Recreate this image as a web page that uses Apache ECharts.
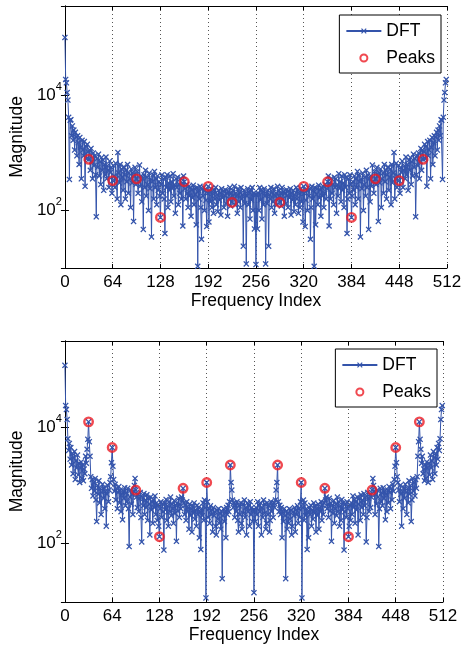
<!DOCTYPE html>
<html><head><meta charset="utf-8">
<script src="https://cdn.jsdelivr.net/npm/echarts@6/dist/echarts.min.js"></script>
<style>html,body{margin:0;padding:0;background:#fff}#c{width:465px;height:646px}</style>
</head><body><div id="c"></div>
<script>
// Frequency index ticks
const xTickInterval = 64;
const xMax = 512;
// Indices marked as peaks (both panels)
const peakIdx = [32,64,96,128,160,192,224,288,320,352,384,416,448,480];
// log10 |X[k]| read from the picture for k = 0..256 (the spectrum of a real
// signal is symmetric: |X[k]| = |X[512-k]|, so k = 257..511 reuse these readings)
const topHalfLog = [
5.01,4.28,4.22,4.05,3.92,3.62,2.54,3.57,3.58,3.30,3.47,3.22,3.40,3.05,3.36,3.28,
2.95,3.30,3.18,2.80,3.27,3.10,2.55,3.22,3.05,2.95,3.20,2.42,3.12,2.90,3.15,3.02,
2.89,3.05,2.70,3.08,2.85,2.55,3.00,2.78,2.95,2.62,1.89,2.90,2.75,2.98,2.60,2.85,
2.45,2.92,2.70,2.88,2.35,2.80,2.62,2.93,2.55,2.78,2.70,2.40,2.86,2.66,2.75,2.30,
2.52,2.78,2.60,2.40,2.82,2.55,2.20,3.01,2.65,2.48,2.80,2.10,2.72,2.58,2.35,2.76,
2.62,2.20,2.70,2.50,2.80,2.30,2.65,2.55,2.05,2.72,2.48,2.66,1.81,2.60,2.75,2.45,
2.55,2.68,2.30,2.50,2.79,2.42,2.60,2.15,2.55,1.67,2.62,2.40,2.70,2.25,2.58,2.45,
2.00,2.65,2.38,2.55,1.54,2.50,2.62,2.20,2.68,2.40,2.55,2.10,2.60,2.35,2.50,2.25,
1.88,2.45,2.62,2.30,2.55,2.20,1.60,2.58,2.40,2.62,2.05,2.48,2.35,2.60,2.15,2.50,
2.38,2.64,2.25,2.45,1.95,2.55,2.40,2.58,2.10,2.46,2.30,2.56,2.20,2.48,1.73,2.60,
2.50,2.38,2.20,2.45,2.30,2.05,2.42,2.25,2.40,1.90,2.36,2.22,2.44,2.10,2.38,2.28,
1.75,2.40,1.03,2.35,2.20,2.42,2.05,1.50,2.38,2.25,2.40,2.00,2.35,2.18,1.72,2.30,
2.42,1.80,2.32,2.15,2.38,2.05,2.30,1.95,2.36,2.20,2.40,2.10,2.28,1.98,2.35,2.18,
2.30,1.92,2.38,2.22,2.34,2.05,2.26,2.36,2.12,2.30,1.90,2.33,2.20,2.40,2.08,2.30,
2.14,2.35,2.20,2.42,2.10,2.30,2.25,1.95,2.38,2.15,2.32,2.05,2.40,2.20,2.28,1.38,
2.35,2.12,2.30,1.07,2.25,2.38,2.10,2.32,1.85,2.36,2.18,2.40,2.00,2.30,1.68,2.28,
1.06];
const bottomHalfLog = [
5.06,4.37,4.30,4.13,3.80,3.60,3.72,3.45,3.65,3.35,3.55,3.20,3.48,3.58,3.10,3.42,
3.30,3.52,3.18,3.38,3.05,3.30,3.40,3.12,3.35,3.08,3.28,3.20,3.50,3.38,3.62,3.79,
4.09,3.75,3.50,3.15,2.95,3.10,2.82,3.05,2.90,3.12,2.75,2.38,3.00,2.85,3.08,2.70,
2.95,2.50,2.88,3.02,2.78,2.96,2.60,2.90,2.30,2.85,3.00,2.72,2.92,3.05,3.15,3.39,
3.65,3.33,3.10,2.90,3.02,2.75,2.95,2.60,2.88,2.98,2.70,2.92,2.55,2.85,2.41,2.90,
2.78,2.96,2.65,2.88,2.72,2.95,2.60,1.95,2.80,2.92,2.68,2.85,2.50,2.90,3.00,3.12,
2.92,2.80,2.62,2.85,2.55,2.78,2.88,2.45,2.03,2.80,2.65,2.86,2.50,2.75,2.62,2.84,
2.40,2.78,2.68,2.15,2.80,2.58,2.72,2.35,2.76,2.62,2.82,2.50,2.70,2.40,2.66,2.30,
2.12,2.60,2.72,2.45,2.68,2.55,1.89,2.70,2.58,2.76,2.40,2.65,2.30,2.72,2.55,2.80,
2.48,2.68,2.60,2.35,2.74,2.52,2.66,2.04,2.70,2.56,2.78,2.45,2.68,2.60,2.80,2.75,
2.95,2.70,2.50,2.66,2.40,2.72,2.55,2.62,2.25,2.68,2.48,2.60,2.20,2.65,2.52,2.70,
2.42,2.58,2.30,2.66,2.50,2.62,2.10,2.55,1.90,2.60,2.48,2.70,2.40,2.75,2.62,1.07,
3.05,2.72,2.45,2.60,2.35,2.65,2.50,2.58,2.20,2.62,2.48,2.55,2.30,2.15,2.58,2.42,
2.60,2.35,2.52,2.25,2.56,1.40,2.48,2.60,2.38,2.55,2.10,2.62,2.50,2.66,2.55,2.72,
3.35,3.05,2.92,2.75,2.62,2.70,2.45,2.66,2.55,2.72,2.40,2.20,2.65,2.50,2.70,2.35,
2.25,2.68,2.52,2.75,2.45,2.62,2.15,2.70,2.55,2.66,2.30,2.72,2.50,2.62,2.38,2.58,
1.16];
const yLabelExps = [2, 4];
const topYRange = [10, 3.6e5];
const bottomYRange = [10, 3.0e5];

function fullSeries(half) {
  const out = [];
  for (let k = 0; k < 512; k++) {
    const e = k <= 256 ? half[k] : half[512 - k];
    out.push([k, Math.pow(10, e)]);
  }
  return out;
}
const topData = fullSeries(topHalfLog);
const bottomData = fullSeries(bottomHalfLog);
const topPeaks = peakIdx.map(k => topData[k]);
const bottomPeaks = peakIdx.map(k => bottomData[k]);

const FONT = 'Liberation Sans, Arial, Helvetica, sans-serif';
const BLUE = '#3454ab';
const RED = '#ec1c24';
const XSYM = 'path://M1.5,0 L5,3.5 L8.5,0 L10,1.5 L6.5,5 L10,8.5 L8.5,10 L5,6.5 L1.5,10 L0,8.5 L3.5,5 L0,1.5 Z';

function yFmt(v) {
  const e = Math.log10(v);
  const r = Math.round(e);
  if (Math.abs(e - r) < 1e-6 && yLabelExps.indexOf(r) >= 0) return '{b|10}{s|' + r + '}';
  return '';
}
const axisLineStyle = {show: true, lineStyle: {color: '#000', width: 1}};
function xAxes(grid, nameGap) {
  return [
    {gridIndex: grid, type: 'value', min: 0, max: xMax, interval: xTickInterval, position: 'bottom',
     axisLine: axisLineStyle, axisTick: {show: true, inside: true, length: 4, lineStyle: {color: '#000'}},
     axisLabel: {color: '#000', fontSize: 17, fontFamily: FONT, margin: 6},
     splitLine: {show: true, lineStyle: {color: '#555', width: 1, type: [1, 3]}},
     name: 'Frequency Index', nameLocation: 'middle', nameGap: nameGap,
     nameTextStyle: {color: '#000', fontSize: 17.5, fontFamily: FONT}},
    {gridIndex: grid, type: 'value', min: 0, max: xMax, interval: xTickInterval, position: 'top',
     axisLine: axisLineStyle, axisTick: {show: true, inside: true, length: 4, lineStyle: {color: '#000'}},
     axisLabel: {show: false}, splitLine: {show: false}}
  ];
}
function yAxes(grid, range) {
  return [
    {gridIndex: grid, type: 'log', logBase: 100, min: range[0], max: range[1], position: 'left',
     axisLine: axisLineStyle, axisTick: {show: true, inside: true, length: 4, lineStyle: {color: '#000'}},
     axisLabel: {formatter: yFmt, margin: 3, color: '#000',
       rich: {b: {fontSize: 17, fontFamily: FONT, lineHeight: 28, color: '#000'},
              s: {fontSize: 11, fontFamily: FONT, lineHeight: 10, verticalAlign: 'top', color: '#000'}}},
     splitLine: {show: false}, minorTick: {show: false},
     name: 'Magnitude', nameLocation: 'middle', nameGap: 37, nameRotate: 90,
     nameTextStyle: {color: '#000', fontSize: 17.5, fontFamily: FONT}},
    {gridIndex: grid, type: 'log', logBase: 100, min: range[0], max: range[1], position: 'right',
     axisLine: axisLineStyle, axisTick: {show: true, inside: true, length: 4, lineStyle: {color: '#000'}},
     axisLabel: {show: false}, splitLine: {show: false}}
  ];
}
function legend(right, top) {
  return {data: ['DFT', 'Peaks'], orient: 'vertical', right: right, top: top,
    padding: [7, 6, 6, 6], itemGap: 9, itemWidth: 35, itemHeight: 7,
    backgroundColor: '#fff', borderColor: '#000', borderWidth: 1, borderRadius: 0,
    selectedMode: false,
    textStyle: {color: '#000', fontSize: 17.5, fontFamily: FONT}};
}
function dft(x, y, data) {
  return {name: 'DFT', type: 'line', xAxisIndex: x, yAxisIndex: y, data: data,
    symbol: XSYM, symbolSize: 6, showSymbol: true, showAllSymbol: true,
    lineStyle: {color: BLUE, width: 1}, itemStyle: {color: BLUE, borderWidth: 0},
    emphasis: {disabled: true}, z: 2};
}
function peaks(x, y, data) {
  return {name: 'Peaks', type: 'scatter', xAxisIndex: x, yAxisIndex: y, data: data,
    symbol: 'circle', symbolSize: 8.5,
    itemStyle: {color: 'rgba(0,0,0,0)', borderColor: RED, borderWidth: 2.4},
    emphasis: {disabled: true}, z: 3};
}

const chart = echarts.init(document.getElementById('c'), null, {renderer: 'canvas'});
chart.setOption({
  animation: false,
  backgroundColor: '#fff',
  textStyle: {fontFamily: FONT},
  grid: [
    {left: 64, top: 6, width: 383, height: 262},
    {left: 61, top: 341, width: 382, height: 261}
  ],
  xAxis: xAxes(0, 24).concat(xAxes(1, 24)),
  yAxis: yAxes(0, topYRange).concat(yAxes(1, bottomYRange)),
  legend: [legend(24, 15), legend(28, 349)],
  series: [
    dft(0, 0, topData), peaks(0, 0, topPeaks),
    dft(2, 2, bottomData), peaks(2, 2, bottomPeaks)
  ]
});
</script></body></html>
